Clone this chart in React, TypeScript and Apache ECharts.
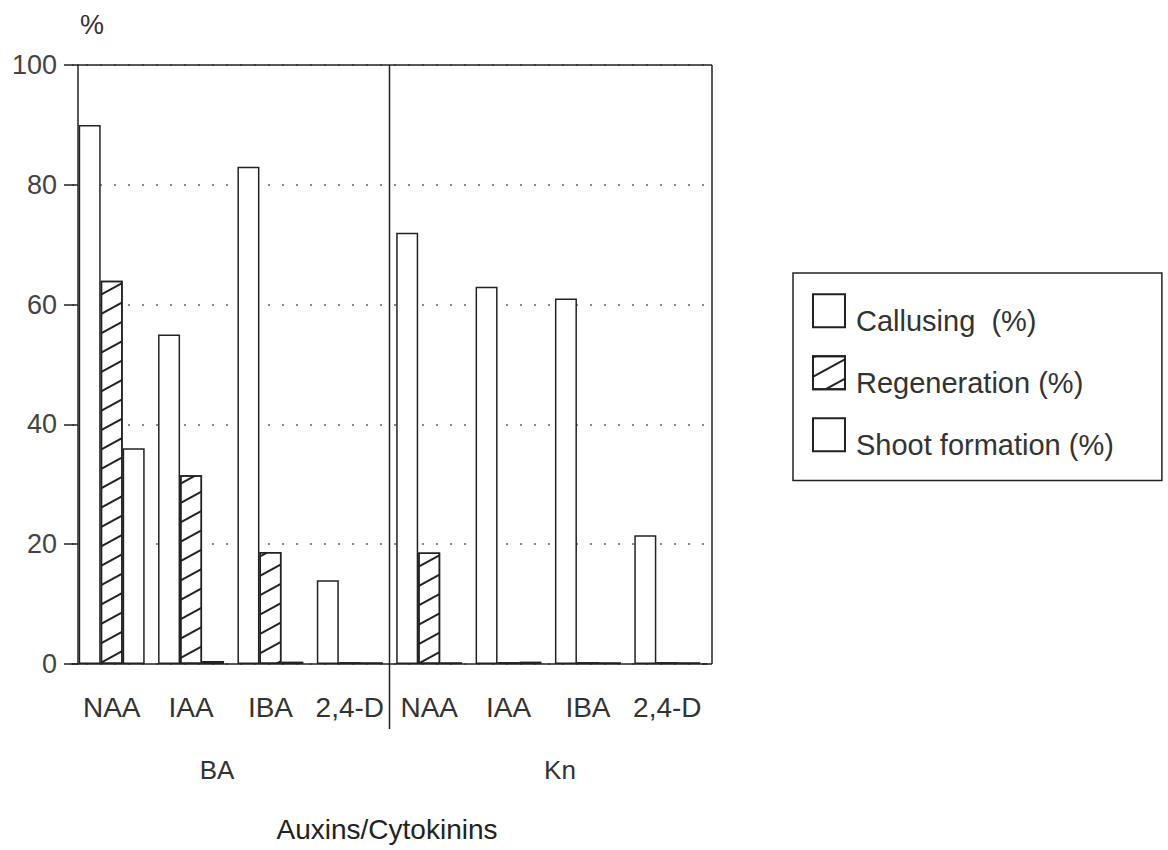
import React, { useEffect, useRef } from "react";
import * as echarts from "echarts";

const auxins = ["NAA", "IAA", "IBA", "2,4-D"];
const cytokinins = ["BA", "Kn"];
const categories = cytokinins.flatMap((c) => auxins.map((a) => `${c}|${a}`));
const seriesNames = ["Callusing  (%)", "Regeneration (%)", "Shoot formation (%)"];
const callusing = [90, 55, 83, 14, 72, 63, 61, 21.5];
const regeneration = [64, 31.5, 18.7, 0.3, 18.6, 0.3, 0.3, 0.3];
const shootFormation = [36, 0.5, 0.4, 0.3, 0.3, 0.4, 0.3, 0.3];
const yMin = 0;
const yMax = 100;
const yStep = 20;
const yAxisTitle = "%";
const xAxisTitle = "Auxins/Cytokinins";

const FONT = "'Liberation Sans', Arial, Helvetica, sans-serif";
const INK = "#222";

export default function App() {
  const ref = useRef<HTMLDivElement>(null);

  useEffect(() => {
    if (!ref.current) return;
    const chart = echarts.init(ref.current, undefined, { renderer: "svg" });
    const line = { color: INK, width: 1.5 };
    const barStyle = { color: "#fff", borderColor: INK, borderWidth: 1.5 };

    chart.setOption({
      animation: false,
      backgroundColor: "#fff",
      grid: { left: 72, right: 461, top: 65, bottom: 186, containLabel: false },
      legend: {
        orient: "vertical",
        left: 793,
        top: 273,
        icon: "rect",
        itemWidth: 32,
        itemHeight: 33,
        itemGap: 13,
        padding: [13.25, 48, 21.25, 19],
        borderColor: INK,
        borderWidth: 1.5,
        selectedMode: false,
        data: seriesNames,
        formatter: (name: string) => "\n" + name,
        textStyle: {
          fontFamily: FONT,
          fontSize: 29,
          lineHeight: 20,
          color: "#333",
          padding: [0, 0, 0, 6],
        },
      },
      xAxis: {
        type: "category",
        data: categories,
        axisLine: { lineStyle: line },
        axisTick: { alignWithLabel: true, length: 9, lineStyle: line },
        axisLabel: {
          interval: 0,
          margin: 29,
          fontFamily: FONT,
          fontSize: 28,
          color: "#333",
          formatter: (v: string) => v.split("|")[1],
        },
      },
      yAxis: {
        type: "value",
        min: yMin,
        max: yMax,
        interval: yStep,
        offset: -6,
        axisLine: { show: true, lineStyle: line },
        axisTick: { show: true, length: 14, lineStyle: line },
        axisLabel: { margin: 21, fontFamily: FONT, fontSize: 27, color: "#444" },
        splitLine: { show: true, lineStyle: { type: [2, 12], color: "#666", width: 1.5 } },
      },
      series: [
        {
          name: seriesNames[0],
          type: "bar",
          data: callusing,
          barWidth: 22,
          barGap: "0%",
          itemStyle: barStyle,
        },
        {
          name: seriesNames[1],
          type: "bar",
          data: regeneration,
          barWidth: 22,
          barGap: "0%",
          itemStyle: {
            ...barStyle,
            decal: {
              symbol: "rect",
              symbolSize: 1,
              dashArrayX: [1, 0],
              dashArrayY: [1.2, 15],
              rotation: -0.5,
              color: INK,
            },
          },
        },
        {
          name: seriesNames[2],
          type: "bar",
          data: shootFormation,
          barWidth: 22,
          barGap: "0%",
          itemStyle: barStyle,
        },
      ],
    });

    const x3 = chart.convertToPixel({ xAxisIndex: 0 }, categories[3]) as number;
    const x4 = chart.convertToPixel({ xAxisIndex: 0 }, categories[4]) as number;
    const divX = (x3 + x4) / 2;
    const yTop = chart.convertToPixel({ yAxisIndex: 0 }, yMax) as number;
    const yBot = chart.convertToPixel({ yAxisIndex: 0 }, yMin) as number;
    const axisX = 78;
    const rightX = 712;
    const txt = (text: string, x: number, y: number, size: number, fill = "#333") => ({
      type: "text",
      x,
      y,
      z: 20,
      style: { text, fontFamily: FONT, fontSize: size, fill, align: "center", verticalAlign: "middle" },
    });
    const ln = (x1: number, y1: number, x2: number, y2: number) => ({
      type: "line",
      z: 20,
      shape: { x1, y1, x2, y2 },
      style: { stroke: INK, lineWidth: 1.5 },
    });

    chart.setOption({
      graphic: [
        ln(axisX, yTop, rightX, yTop),
        ln(rightX, yTop, rightX, yBot),
        ln(rightX - 10, yBot, rightX, yBot),
        ln(divX, yTop, divX, yBot + 65),
        txt(yAxisTitle, 92, 25, 27),
        txt(cytokinins[0], 217, 770, 26),
        txt(cytokinins[1], 560, 770, 26),
        txt(xAxisTitle, 387, 829, 28, INK),
      ],
    });

    return () => chart.dispose();
  }, []);

  return (
    <div
      ref={ref}
      style={{ position: "absolute", left: 0, top: 0, width: 1168, height: 850 }}
    />
  );
}
